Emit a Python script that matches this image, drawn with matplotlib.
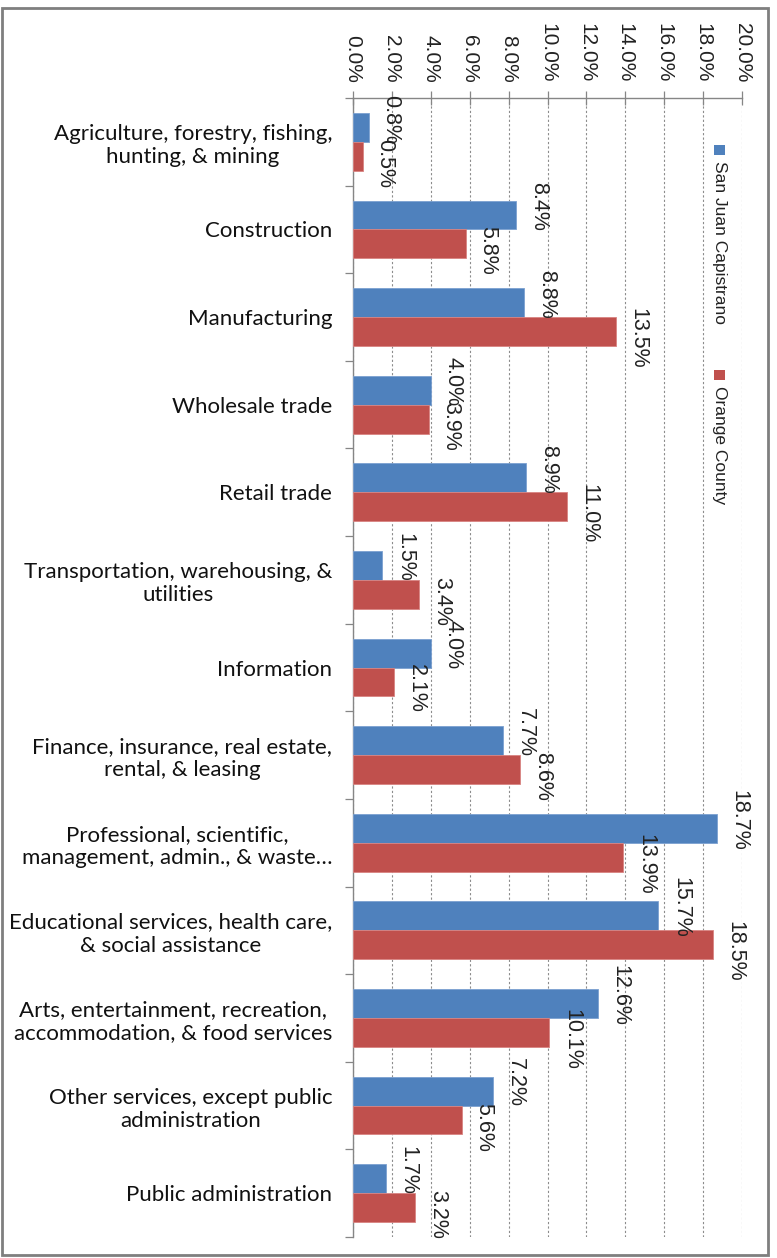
import numpy as np
import matplotlib
matplotlib.use('Agg')
import matplotlib.pyplot as plt
from matplotlib.patches import Rectangle
from matplotlib.ticker import FixedLocator, PercentFormatter

# datos
categorias = [
    "Agriculture, forestry, fishing,\nhunting, & mining",
    "Construction",
    "Manufacturing",
    "Wholesale trade",
    "Retail trade",
    "Transportation, warehousing, &\nutilities",
    "Information",
    "Finance, insurance, real estate,\nrental, & leasing",
    "Professional, scientific,\nmanagement, admin., & waste\u2026",
    "Educational services, health care,\n& social assistance",
    "Arts, entertainment, recreation,\naccommodation, & food services",
    "Other services, except public\nadministration",
    "Public administration",
]
san_juan = [0.8, 8.4, 8.8, 4.0, 8.9, 1.5, 4.0, 7.7, 18.7, 15.7, 12.6, 7.2, 1.7]
orange = [0.5, 5.8, 13.5, 3.9, 11.0, 3.4, 2.1, 8.6, 13.9, 18.5, 10.1, 5.6, 3.2]
series = ["San Juan Capistrano", "Orange County"]
colores = ["#4F81BD", "#C0504D"]
xticks = [0, 2, 4, 6, 8, 10, 12, 14, 16, 18, 20]

W, H = 777, 1258
fig = plt.figure(figsize=(W / 100, H / 100), dpi=100)
ax = fig.add_axes([353 / W, 1 - 1237 / H, (742 - 353) / W, (1237 - 98) / H])

y = np.arange(len(categorias))
h = 0.33
b1 = ax.barh(y - h / 2, san_juan, height=h, color=colores[0], edgecolor="#7BA0D0", linewidth=0.6, zorder=3)
b2 = ax.barh(y + h / 2, orange, height=h, color=colores[1], edgecolor="#D88482", linewidth=0.6, zorder=3)

# etiquetas de valores (giradas)
for bars, vals, dy in [(b1, san_juan, 6), (b2, orange, -5)]:
    for bar, v in zip(bars, vals):
        ax.annotate(f"{v:.1f}%", (bar.get_width(), bar.get_y() + bar.get_height() / 2),
                    xytext=(16, dy), textcoords="offset points", rotation=-90,
                    ha="center", va="center", fontsize=15.5, family="Liberation Sans",
                    color="#222222", zorder=4)

ax.set_xlim(0, 20)
ax.set_ylim(len(categorias) - 0.5, -0.5)

ax.xaxis.tick_top()
ax.xaxis.set_major_locator(FixedLocator(xticks))
ax.xaxis.set_major_formatter(PercentFormatter(decimals=1))
ax.tick_params(axis="x", direction="inout", length=10, width=0.9, color="#868686",
               labelsize=15, labelrotation=-90, pad=6, labelcolor="#222222")
for t in ax.get_xticklabels():
    t.set_family("Liberation Sans")

ax.set_yticks(np.arange(len(categorias) + 1) - 0.5)
ax.set_yticklabels([])
ax.set_yticks(y, minor=True)
ax.set_yticklabels(categorias, minor=True, fontsize=16, family="Lato",
                   multialignment="center", linespacing=1.2, color="#111111")
ax.tick_params(axis="y", which="major", direction="out", length=6, width=0.9, color="#868686")
ax.tick_params(axis="y", which="minor", length=0, pad=15)

ax.grid(axis="x", color="#8C8C8C", linestyle=(0, (2, 2)), linewidth=0.8, zorder=0)
for s in ["right", "bottom"]:
    ax.spines[s].set_visible(False)
for s in ["left", "top"]:
    ax.spines[s].set_color("#868686")
    ax.spines[s].set_linewidth(1.0)

# leyenda manual girada
ley_y = [145, 370]
for nombre, col, yy in zip(series, colores, ley_y):
    fig.patches.append(Rectangle((714 / W, 1 - (yy + 10) / H), 11 / W, 10 / H,
                                 transform=fig.transFigure, facecolor=col, edgecolor="none"))
    fig.text(719.5 / W, 1 - (yy + 16) / H, nombre, rotation=-90, ha="center", va="top",
             fontsize=12.5, family="Liberation Sans", color="#222222")

# marco exterior
fig.patches.append(Rectangle((2 / W, 1 - 1255 / H), 766 / W, 1247 / H, transform=fig.transFigure,
                             fill=False, edgecolor="#7F7F7F", linewidth=2))

fig.savefig("out.png", dpi=100)
plt.close()
